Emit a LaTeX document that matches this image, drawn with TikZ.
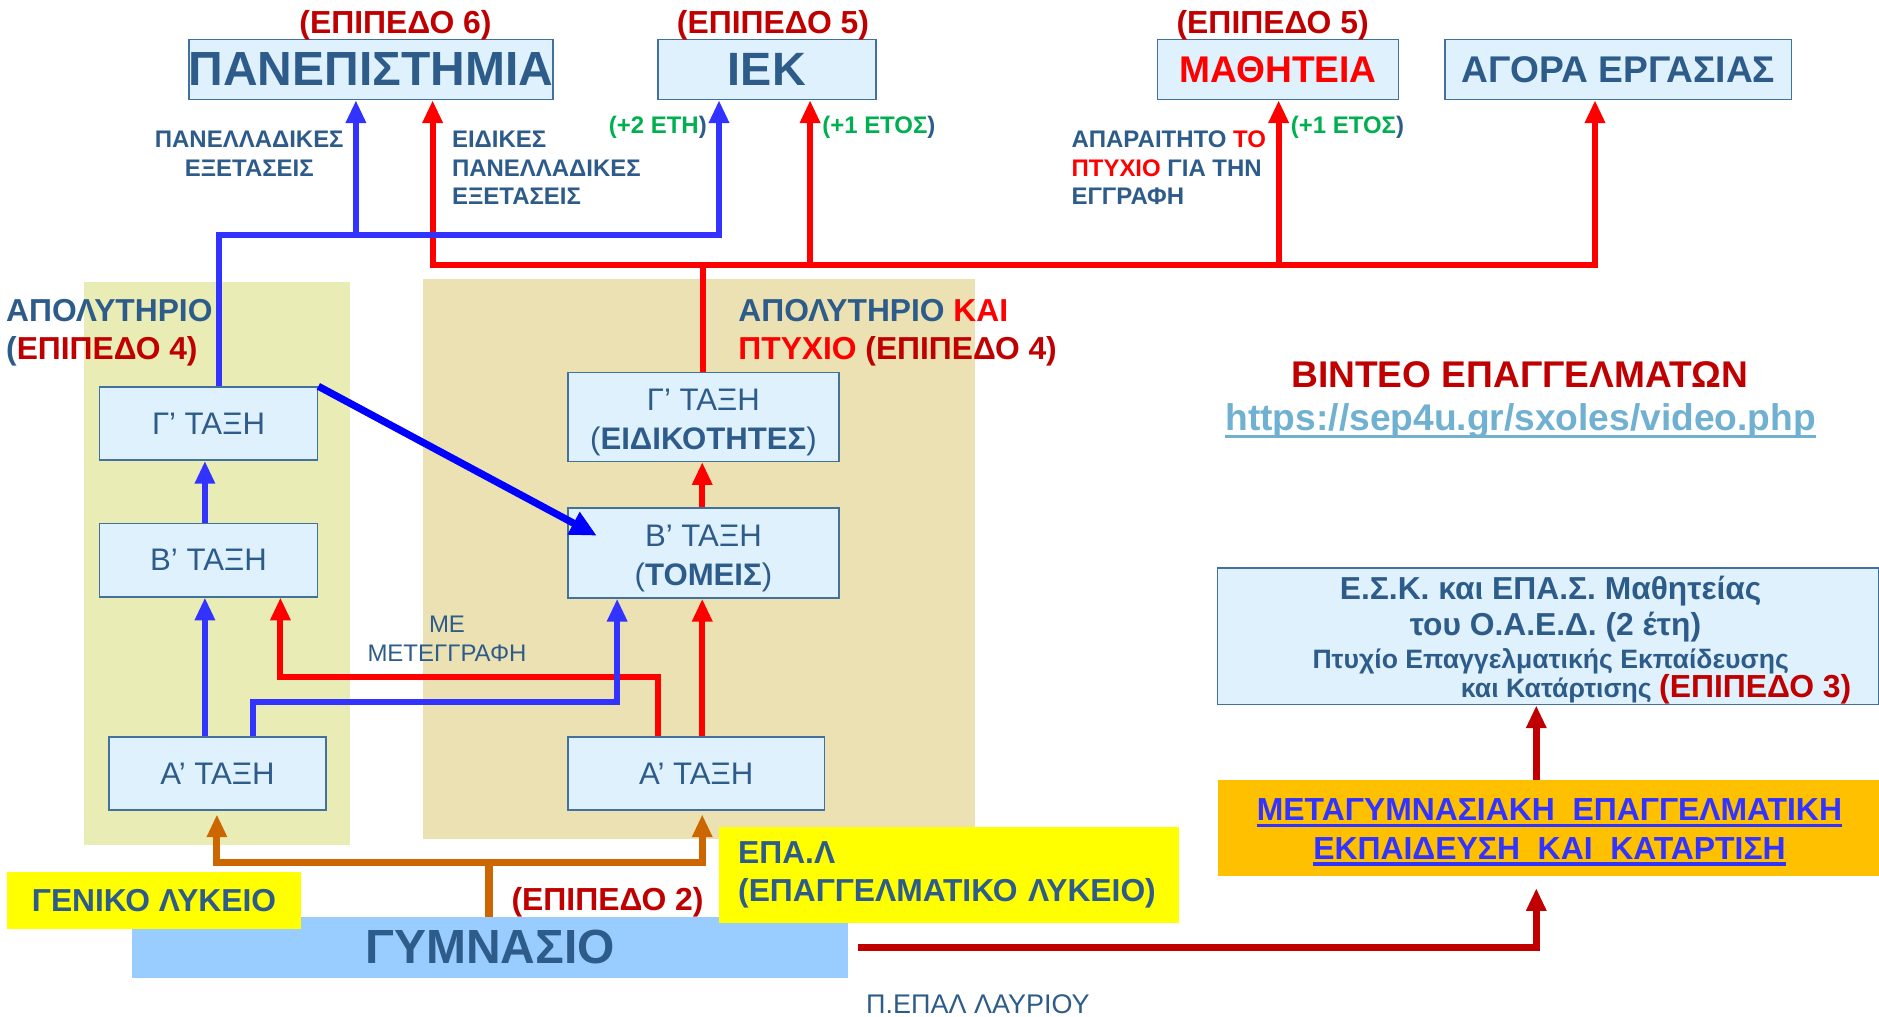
\documentclass[tikz,border=0pt]{standalone}
\usepackage{fontspec}
\setmainfont{Liberation Sans}
\usetikzlibrary{arrows.meta}
\definecolor{sb}{RGB}{46,92,138}
\definecolor{bx}{RGB}{222,241,252}
\definecolor{bxd}{RGB}{65,113,156}
\definecolor{dred}{RGB}{192,0,0}
\definecolor{rd}{RGB}{255,0,0}
\definecolor{bl}{RGB}{51,51,255}
\definecolor{bld}{RGB}{0,0,255}
\definecolor{gr}{RGB}{0,176,80}
\definecolor{org}{RGB}{204,102,0}
\definecolor{pl}{RGB}{233,236,180}
\definecolor{pr}{RGB}{235,225,178}
\definecolor{gymc}{RGB}{153,204,255}
\definecolor{yel}{RGB}{255,255,0}
\definecolor{ogb}{RGB}{255,192,0}
\definecolor{urlc}{RGB}{112,176,208}
\newcommand{\fsz}[2]{\fontsize{#1pt}{#2pt}\selectfont}
\begin{document}
\begin{tikzpicture}[x=1pt,y=-1pt,
  >={Triangle[width=16pt,length=19pt]},
  bbox/.style={draw=bxd,line width=1.3pt,fill=bx,inner sep=0pt,text=sb},
  txt/.style={inner sep=0pt,text=sb},
  lvl/.style={inner sep=0pt,text=dred,font=\fsz{26.6}{31}\bfseries,anchor=base},
  lbl/.style={inner sep=0pt,text=sb,font=\fsz{20}{24}\bfseries},
  bluel/.style={draw=bl,line width=5pt},
  redl/.style={draw=rd,line width=5pt},
  orgl/.style={draw=org,line width=6pt},
  dredl/.style={draw=dred,line width=6pt}]

\useasboundingbox (0,0) rectangle (1568,848.6);
\fill[white] (0,0) rectangle (1568,848.6);

% panels
\fill[pl] (70,235) rectangle (292,705);
\fill[pr] (353,233) rectangle (814,700);

% top boxes
\node[bbox,minimum width=303pt,minimum height=50pt,font=\fsz{40}{47}\bfseries] (pan) at (309.5,58) {ΠΑΝΕΠΙΣΤΗΜΙΑ};
\node[bbox,minimum width=182pt,minimum height=50pt,font=\fsz{39}{47}\bfseries] (iek) at (640,58) {ΙΕΚ};
\node[bbox,minimum width=201pt,minimum height=50pt,font=\fsz{31}{36}\bfseries,text=rd] (math) at (1066.5,58) {ΜΑΘΗΤΕΙΑ};
\node[bbox,minimum width=289pt,minimum height=50pt,font=\fsz{31}{36}\bfseries] (agora) at (1350.5,58) {ΑΓΟΡΑ ΕΡΓΑΣΙΑΣ};

\node[lvl] (lv6) at (330,28) {(ΕΠΙΠΕΔΟ 6)};
\node[lvl] (lv5a) at (645,28) {(ΕΠΙΠΕΔΟ 5)};
\node[lvl] (lv5b) at (1062,28) {(ΕΠΙΠΕΔΟ 5)};

% school boxes
\node[bbox,minimum width=182pt,minimum height=61pt,font=\fsz{26}{32}] (gC) at (174,353.5) {Γ’ ΤΑΞΗ};
\node[bbox,minimum width=182pt,minimum height=61pt,font=\fsz{26}{32}] (gB) at (174,467.5) {Β’ ΤΑΞΗ};
\node[bbox,minimum width=181pt,minimum height=61pt,font=\fsz{26}{32}] (gA) at (181.5,645.5) {Α’ ΤΑΞΗ};
\node[bbox,minimum width=226pt,minimum height=74pt,font=\fsz{26}{32},align=center] (eC) at (587,348) {\rule{0pt}{27pt}Γ’ ΤΑΞΗ\\(\textbf{ΕΙΔΙΚΟΤΗΤΕΣ})};
\node[bbox,minimum width=226pt,minimum height=75pt,font=\fsz{26}{32},align=center] (eB) at (587,461.5) {\rule{0pt}{27pt}Β’ ΤΑΞΗ\\(\textbf{ΤΟΜΕΙΣ})};
\node[bbox,minimum width=214pt,minimum height=61pt,font=\fsz{26}{32}] (eA) at (581,645.5) {Α’ ΤΑΞΗ};

% bottom
\node[fill=gymc,minimum width=598pt,minimum height=51pt,inner sep=0pt,text=sb,font=\fsz{40}{47}\bfseries] (gym) at (409,790.5) {ΓΥΜΝΑΣΙΟ};
\node[fill=yel,minimum width=245pt,minimum height=47pt,inner sep=0pt,text=sb,font=\fsz{26.5}{30}\bfseries] (gen) at (128.5,751.5) {ΓΕΝΙΚΟ ΛΥΚΕΙΟ};
\node[fill=yel,minimum height=80pt,inner xsep=16pt,inner ysep=0pt,text width=352pt,align=left,text=sb,font=\fsz{26.5}{32}\bfseries] (epal) at (792,730) {ΕΠΑ.Λ\\(ΕΠΑΓΓΕΛΜΑΤΙΚΟ ΛΥΚΕΙΟ)};
\node[lvl] (lv2) at (507,760) {(ΕΠΙΠΕΔΟ 2)};

% right side
\node[fill=ogb,minimum width=552pt,minimum height=80pt,inner sep=0pt] (meta) at (1292,691) {};
\node[txt,text=bl,font=\fsz{26.6}{31}\bfseries,anchor=base] (m1) at (1293,685) {ΜΕΤΑΓΥΜΝΑΣΙΑΚΗ\ \ ΕΠΑΓΓΕΛΜΑΤΙΚΗ};
\node[txt,text=bl,font=\fsz{26.6}{31}\bfseries,anchor=base] (m2) at (1293,717) {ΕΚΠΑΙΔΕΥΣΗ\ \ ΚΑΙ\ \ ΚΑΤΑΡΤΙΣΗ};
\draw[bl,line width=2.8pt] ([yshift=-4pt]m1.base west) -- ([yshift=-4pt]m1.base east);
\draw[bl,line width=2.8pt] ([yshift=-4pt]m2.base west) -- ([yshift=-4pt]m2.base east);

\node[bbox,minimum width=552pt,minimum height=114pt] (esk) at (1292,531) {};
\node[txt,font=\fsz{26.5}{30}\bfseries,anchor=base] (k1) at (1294,500) {Ε.Σ.Κ. και ΕΠΑ.Σ. Μαθητείας};
\node[txt,font=\fsz{26.5}{30}\bfseries,anchor=base] (k2) at (1298,530) {του Ο.Α.Ε.Δ. (2 έτη)};
\node[txt,font=\fsz{22.2}{26}\bfseries,anchor=base] (k3) at (1294,558) {Πτυχίο Επαγγελματικής Εκπαίδευσης};
\node[txt,font=\fsz{22.2}{26}\bfseries,anchor=base east] (k4) at (1545,582) {και Κατάρτισης \textcolor{dred}{\fsz{26.6}{30}(ΕΠΙΠΕΔΟ 3)}};

\node[txt,text=dred,font=\fsz{31}{35}\bfseries,anchor=base] (vid) at (1268,323) {ΒΙΝΤΕΟ ΕΠΑΓΓΕΛΜΑΤΩΝ};
\node[txt,text=urlc,font=\fsz{31}{35}\bfseries,anchor=base] (url) at (1269,359) {https://sep4u.gr/sxoles/video.php};
\draw[urlc,line width=2.8pt] ([yshift=-5.5pt]url.base west) -- ([yshift=-5.5pt]url.base east);

\node[txt,font=\fsz{22.5}{24},anchor=base] (lav) at (816,846) {Π.ΕΠΑΛ ΛΑΥΡΙΟΥ};

% labels (base anchor = last line)
\node[lbl,align=center,anchor=base] (pe) at (208,147) {ΠΑΝΕΛΛΑΔΙΚΕΣ\\ΕΞΕΤΑΣΕΙΣ};
\node[lbl,align=left,anchor=base west] (eid) at (377,171) {ΕΙΔΙΚΕΣ\\ΠΑΝΕΛΛΑΔΙΚΕΣ\\ΕΞΕΤΑΣΕΙΣ};
\node[lbl,text=gr,anchor=base east] (p2) at (590,111) {(+2 ΕΤΗ\textcolor{sb}{)}};
\node[lbl,text=gr,anchor=base west] (p1a) at (686,111) {(+1 ΕΤΟΣ\textcolor{sb}{)}};
\node[lbl,align=left,anchor=base west] (apar) at (894,171) {ΑΠΑΡΑΙΤΗΤΟ \textcolor{rd}{ΤΟ}\\\textcolor{rd}{ΠΤΥΧΙΟ} ΓΙΑ ΤΗΝ\\ΕΓΓΡΑΦΗ};
\node[lbl,text=gr,anchor=base west] (p1b) at (1077,111) {(+1 ΕΤΟΣ\textcolor{sb}{)}};

\node[txt,font=\fsz{26.5}{32}\bfseries,align=left,anchor=base west] (apL) at (5,300) {ΑΠΟΛΥΤΗΡΙΟ\\(\textcolor{dred}{ΕΠΙΠΕΔΟ 4)}};
\node[txt,font=\fsz{26.5}{32}\bfseries,align=left,anchor=base west] (apR) at (616,300) {ΑΠΟΛΥΤΗΡΙΟ \textcolor{rd}{ΚΑΙ}\\\textcolor{rd}{ΠΤΥΧΙΟ} \textcolor{dred}{(ΕΠΙΠΕΔΟ 4)}};
\node[txt,font=\fsz{20}{24},align=center,anchor=base] (met) at (373,552) {ΜΕ\\ΜΕΤΕΓΓΡΑΦΗ};

% connectors: top
\coordinate (bL) at (183,196);
\coordinate (bP) at (297,196);
\coordinate (bI) at (600,196);
\coordinate (rP) at (361,221);
\coordinate (rI) at (676,221);
\coordinate (rE) at (587,221);
\coordinate (rM) at (1067,221);
\coordinate (rA) at (1331,221);
\draw[redl,<->] (pan.south -| rP) -- (rP) -- (rA) -- (agora.south -| rA);
\draw[redl,->] (rI) -- (iek.south -| rI);
\draw[redl,->] (rM) -- (math.south -| rM);
\draw[redl] (eC.north -| rE) -- (rE);
\draw[bluel,<-] (iek.south -| bI) -- (bI) -- (bL) -- (gC.north -| bL);
\draw[bluel,->] (bP) -- (pan.south -| bP);

% connectors: schools
\coordinate (xa) at (171,0);
\coordinate (xf) at (586,0);
\coordinate (rd1) at (549,565);
\coordinate (rd2) at (234,565);
\coordinate (bd1) at (211,586);
\coordinate (bd2) at (515,586);
\coordinate (dt) at (498,447);
\draw[bluel,->] (gB.north -| xa) -- (gC.south -| xa);
\draw[bluel,->] (gA.north -| xa) -- (gB.south -| xa);
\draw[redl,->] (eA.north -| rd1) -- (rd1) -- (rd2) -- (gB.south -| rd2);
\draw[bluel,->] (gA.north -| bd1) -- (bd1) -- (bd2) -- (eB.south -| bd2);
\draw[redl,->] (eA.north -| xf) -- (eB.south -| xf);
\draw[redl,->] (eB.north -| xf) -- (eC.south -| xf);
\draw[draw=bld,line width=6pt,-{Triangle[width=20pt,length=22pt]}] (gC.north east) -- (dt);

% connectors: bottom
\coordinate (oj) at (408,720);
\coordinate (ol) at (181,720);
\coordinate (orr) at (586,720);
\draw[orgl,<->,shorten <=3pt,shorten >=3pt] (gA.south -| ol) -- (ol) -- (orr) -- (eA.south -| orr);
\draw[orgl] (gym.north -| oj) -- (oj);
\coordinate (dj) at (1282,0);
\draw[dredl,->,shorten >=10pt] ([xshift=8pt]gym.east) -- (gym.east -| dj) -- (meta.south -| dj);
\draw[dredl,->] (meta.north -| dj) -- (esk.south -| dj);
\end{tikzpicture}
\end{document}
